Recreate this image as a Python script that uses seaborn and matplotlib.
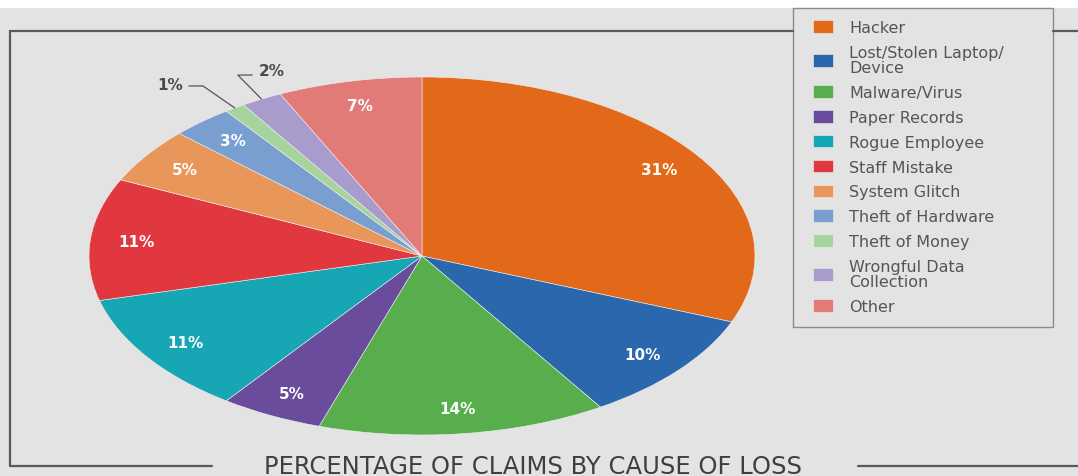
import numpy as np
import matplotlib
matplotlib.use("Agg")
import matplotlib.pyplot as plt
from matplotlib.patches import Rectangle
from matplotlib.lines import Line2D
import seaborn as sns

# ---- data ----
categories = ["Hacker", "Lost/Stolen Laptop/\nDevice", "Malware/Virus", "Paper Records",
              "Rogue Employee", "Staff Mistake", "System Glitch", "Theft of Hardware",
              "Theft of Money", "Wrongful Data\nCollection", "Other"]
values = [31, 10, 14, 5, 11, 11, 5, 3, 1, 2, 7]
colors = ["#e2691a", "#2a67ad", "#58ae4c", "#6a4c9c", "#17a6b4", "#e1383f",
          "#e8965a", "#789fcf", "#a6d39e", "#a79ccb", "#e27b78"]
title = "PERCENTAGE OF CLAIMS BY CAUSE OF LOSS"

sns.set_theme(style="white")
plt.rcParams['font.family'] = ['DejaVu Sans']

W, H = 1078, 477
fig = plt.figure(figsize=(W / 100, H / 100), dpi=100)
fig.patch.set_facecolor("white")
BG = "#e3e3e3"

def fx(px):
    return px / W

def fy(py):
    return 1 - py / H

# gray page background
fig.add_artist(Rectangle((0, 0), 1, fy(9), transform=fig.transFigure,
                         facecolor=BG, edgecolor="none", zorder=0))

# frame lines
lc = "#5a5a5a"
lw = 1.6
fig.add_artist(Line2D([fx(10), fx(10)], [fy(32), fy(467)], color=lc, lw=lw))
fig.add_artist(Line2D([fx(10), fx(793)], [fy(32), fy(32)], color=lc, lw=lw))
fig.add_artist(Line2D([fx(1053), fx(1078)], [fy(32), fy(32)], color=lc, lw=lw))
fig.add_artist(Line2D([fx(10), fx(212)], [fy(467), fy(467)], color=lc, lw=lw))
fig.add_artist(Line2D([fx(858), fx(1078)], [fy(467), fy(467)], color=lc, lw=lw))
fig.text(fx(533), fy(467), title, ha="center", va="center", fontsize=17.5,
         color="#3f3f3f")

# pie axes (ellipse via non-equal aspect)
cx, cy, rx, ry = 422, 257, 333, 179
ax = fig.add_axes([fx(cx - rx), (H - cy - ry) / H, 2 * rx / W, 2 * ry / H])
ax.set_facecolor("none")
ax.patch.set_alpha(0)

small = {8, 9}
pct_labels = [f"{v}%" for v in values]

def autopct_factory():
    it = iter(range(len(values)))
    def f(p):
        i = next(it)
        return "" if i in small else pct_labels[i]
    return f

wedges, texts, autotexts = ax.pie(values, colors=colors, startangle=90, counterclock=False,
                                  autopct=autopct_factory(), pctdistance=0.86,
                                  wedgeprops=dict(linewidth=0.4, edgecolor="#f0f0f0"),
                                  textprops=dict(color="white", fontsize=11, fontweight="bold"))
ax.set_aspect("auto")
ax.set_xlim(-1, 1)
ax.set_ylim(-1, 1)
ax.axis("off")

# outside labels for the tiny slices with leader lines
def edge_point(w):
    ang = np.deg2rad((w.theta1 + w.theta2) / 2)
    return np.cos(ang), np.sin(ang)

# 1%
ex, ey = edge_point(wedges[8])
ax.plot([ex, -0.658, -0.70], [ey, 0.95, 0.95], color="#555555", lw=0.9, clip_on=False)
ax.text(-0.755, 0.96, pct_labels[8], ha="center", va="center", fontsize=11,
        fontweight="bold", color="#4a4a4a", clip_on=False)
# 2%
ex, ey = edge_point(wedges[9])
ax.plot([ex, -0.553, -0.51], [ey, 1.011, 1.011], color="#555555", lw=0.9, clip_on=False)
ax.text(-0.45, 1.035, pct_labels[9], ha="center", va="center", fontsize=11,
        fontweight="bold", color="#4a4a4a", clip_on=False)

# legend box
fig.add_artist(Rectangle((fx(793), fy(328)), fx(1053) - fx(793), fy(9) - fy(328),
                         transform=fig.transFigure, facecolor=BG, edgecolor="#8a8a8a",
                         linewidth=1.0, zorder=1))
leg = fig.legend(wedges, categories, loc="upper left",
                 bbox_to_anchor=(fx(813), fy(21)), bbox_transform=fig.transFigure,
                 frameon=False, fontsize=11.5, labelcolor="#555555",
                 handlelength=1.25, handleheight=0.85, handletextpad=1.0,
                 labelspacing=0.62, borderpad=0, borderaxespad=0)
leg.set_zorder(2)
for t in leg.get_texts():
    t.set_linespacing(1.0)

fig.savefig("out.png", dpi=100, facecolor=fig.get_facecolor())
